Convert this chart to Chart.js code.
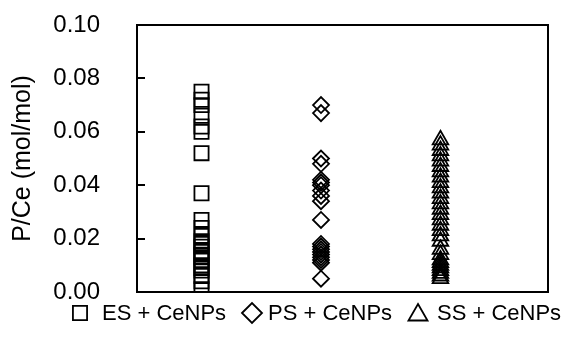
<!DOCTYPE html>
<html>
<head>
<meta charset="utf-8">
<script src="https://cdn.jsdelivr.net/npm/chart.js@4.4.0/dist/chart.umd.min.js"></script>
<style>
  html, body { margin: 0; padding: 0; background: #fff; }
  #wrap { width: 561px; height: 339px; }
</style>
</head>
<body>
<div id="wrap"><canvas id="chart-pce"></canvas></div>
<script>
// P/Ce molar ratios per sample, one column per treatment
const groups = ["ES + CeNPs", "PS + CeNPs", "SS + CeNPs"];
const groupPos = [1, 2, 3];

const esValues = [0.075, 0.072, 0.070, 0.066, 0.062, 0.060, 0.052, 0.037,
  0.027, 0.024, 0.021, 0.019, 0.018, 0.017, 0.015, 0.014, 0.013, 0.012,
  0.010, 0.009, 0.008, 0.006, 0.004, 0.001];
const psValues = [0.070, 0.067, 0.050, 0.048, 0.042, 0.041, 0.040, 0.038,
  0.036, 0.034, 0.027, 0.018, 0.017, 0.016, 0.015, 0.014, 0.013, 0.012,
  0.011, 0.005];
const ssValues = [0.057, 0.055, 0.053, 0.051, 0.049, 0.047, 0.045, 0.043,
  0.041, 0.039, 0.037, 0.035, 0.033, 0.031, 0.029, 0.027, 0.025, 0.023,
  0.021, 0.019, 0.016, 0.014, 0.012, 0.011, 0.010, 0.009, 0.008, 0.007,
  0.006, 0.005];

const yTicks = [0, 0.02, 0.04, 0.06, 0.08, 0.10];

const toPoints = (vals, x) => vals.map((v) => ({ x: x, y: v }));

// frame around the plot plus short inward ticks on the left axis
const framePlugin = {
  id: "frame",
  afterDatasetsDraw(chart) {
    const { ctx, chartArea: a, scales } = chart;
    ctx.save();
    ctx.strokeStyle = "#000";
    ctx.lineWidth = 2;
    ctx.strokeRect(a.left, a.top, a.right - a.left, a.bottom - a.top);
    ctx.beginPath();
    yTicks.forEach((t) => {
      const y = Math.round(scales.y.getPixelForValue(t));
      ctx.moveTo(a.left, y);
      ctx.lineTo(a.left + 8, y);
    });
    ctx.stroke();
    ctx.restore();
  },
};

// legend row under the plot, markers taken from each dataset's point style
const legendRow = { y: 313, markerX: [80, 252, 418], textX: [102, 268, 437], radius: [10, 10, 11] };
const legendPlugin = {
  id: "legendRow",
  afterDraw(chart) {
    const { ctx } = chart;
    ctx.save();
    ctx.font = "22px 'Liberation Sans'";
    ctx.textBaseline = "middle";
    chart.data.datasets.forEach((ds, i) => {
      ctx.strokeStyle = "#000";
      ctx.fillStyle = "rgba(0,0,0,0)";
      ctx.lineWidth = 1.8;
      Chart.helpers.drawPoint(ctx, { pointStyle: ds.pointStyle, radius: legendRow.radius[i], rotation: 0, borderWidth: 1.8 },
        legendRow.markerX[i], legendRow.y + (ds.pointStyle === "triangle" ? 2 : 0));
      ctx.fillStyle = "#000";
      ctx.fillText(ds.label, legendRow.textX[i], legendRow.y + 1);
    });
    ctx.restore();
  },
};

const markerStyle = {
  backgroundColor: "rgba(0,0,0,0)",
  borderColor: "#000",
  borderWidth: 1.8,
  pointBackgroundColor: "rgba(0,0,0,0)",
  pointBorderColor: "#000",
  pointBorderWidth: 1.8,
  pointHoverRadius: 9,
};

const ctx = document.getElementById("chart-pce").getContext("2d");
const pceChart = new Chart(ctx, {
  type: "scatter",
  data: {
    datasets: [
      Object.assign({ label: groups[0], data: toPoints(esValues, groupPos[0]), pointStyle: "rect", pointRadius: 10 }, markerStyle),
      Object.assign({ label: groups[1], data: toPoints(psValues, groupPos[1]), pointStyle: "rectRot", pointRadius: 8 }, markerStyle),
      Object.assign({ label: groups[2], data: toPoints(ssValues, groupPos[2]), pointStyle: "triangle", pointRadius: 9 }, markerStyle),
    ],
  },
  options: {
    responsive: true,
    maintainAspectRatio: false,
    animation: false,
    layout: { padding: { top: 25, right: 4, bottom: 47, left: 0 } },
    scales: {
      x: {
        type: "linear",
        min: 0.46,
        max: 3.9,
        display: false,
      },
      y: {
        min: 0,
        max: 0.1,
        afterFit: (s) => { s.width = 137; },
        grid: { display: false, drawTicks: true, tickLength: 33 },
        border: { display: false },
        ticks: {
          stepSize: 0.02,
          padding: 4,
          color: "#000",
          font: { family: "Liberation Sans", size: 24 },
          callback: (v) => v.toFixed(2),
        },
        title: {
          display: true,
          text: "P/Ce (mol/mol)",
          color: "#000",
          font: { family: "Liberation Sans", size: 25 },
          padding: { top: 8, bottom: 0 },
        },
      },
      y2: {
        position: "right",
        display: true,
        afterFit: (s) => { s.width = 9; },
        grid: { display: false },
        border: { display: false },
        ticks: { display: false },
      },
    },
    plugins: {
      legend: { display: false },
      tooltip: { enabled: false },
    },
  },
  plugins: [framePlugin, legendPlugin],
});
</script>
</body>
</html>
